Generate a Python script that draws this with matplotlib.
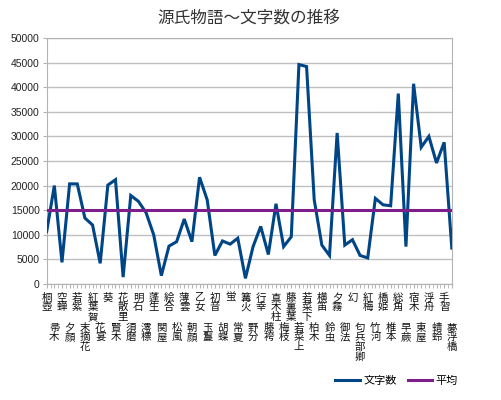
import matplotlib
matplotlib.use("Agg")
import matplotlib.pyplot as plt
from matplotlib.lines import Line2D
import numpy as np

plt.rcParams['font.family'] = ['Noto Sans CJK JP', 'DejaVu Sans']

chapters = ["桐壺", "帚木", "空蝉", "夕顔", "若紫", "末摘花", "紅葉賀", "花宴", "葵", "賢木",
            "花散里", "須磨", "明石", "澪標", "蓬生", "関屋", "絵合", "松風", "薄雲", "朝顔",
            "乙女", "玉鬘", "初音", "胡蝶", "蛍", "常夏", "篝火", "野分", "行幸", "藤袴",
            "真木柱", "梅枝", "藤裏葉", "若菜上", "若菜下", "柏木", "横笛", "鈴虫", "夕霧", "御法",
            "幻", "匂兵部卿", "紅梅", "竹河", "橋姫", "椎本", "総角", "早蕨", "宿木", "東屋",
            "浮舟", "蜻蛉", "手習", "夢浮橋"]

char_counts = [10650, 20000, 4400, 20350, 20350, 13400, 12000, 4200, 20100, 21200,
               1400, 18000, 16800, 14500, 10000, 1700, 7700, 8600, 13200, 8600,
               21700, 17100, 5800, 8750, 8100, 9300, 1150, 7600, 11700, 6000,
               16300, 7600, 9600, 44600, 44200, 17100, 7900, 5800, 30700, 7900,
               9000, 5800, 5300, 17400, 16100, 15900, 38700, 7600, 40700, 27800,
               30000, 24600, 28800, 7300]

average = [14950] * len(chapters)

yticks = [0, 5000, 10000, 15000, 20000, 25000, 30000, 35000, 40000, 45000, 50000]

fig = plt.figure(figsize=(5.02, 4.0), dpi=100)
ax = fig.add_axes([0.093, 0.29, 0.807, 0.615])

x = np.arange(len(chapters))
ax.plot(x, char_counts, color='#004586', lw=2.2, solid_joinstyle='miter', zorder=3)
ax.plot(x, average, color='#7e1e8a', lw=2.2, zorder=4)

ax.set_xlim(0, len(chapters) - 1)
ax.set_ylim(0, 50000)
ax.set_yticks(yticks)
ax.set_yticklabels([str(v) for v in yticks], fontfamily='Liberation Sans', fontsize=7.5, color='#222222')
ax.yaxis.grid(True, color='#c0c0c0', lw=1.0)
ax.set_axisbelow(True)
for s in ax.spines.values():
    s.set_color('#b3b3b3')
    s.set_linewidth(0.8)
ax.tick_params(axis='y', length=3, color='#b3b3b3', pad=2)

ax.set_xticks(x)
ax.set_xticks(x[:-1] + 0.5, minor=True)
ax.set_xticklabels([])
ax.tick_params(axis='x', which='both', length=3, color='#b3b3b3')

trans = ax.get_xaxis_transform()
for i, name in enumerate(chapters):
    yoff = -0.035 if i % 2 == 0 else -0.157
    ax.text(i, yoff, "\n".join(name), transform=trans, ha='center', va='top',
            fontsize=7.5, linespacing=0.95, color='#111111')

fig.text(0.495, 0.955, "源氏物語～文字数の推移", ha='center', va='center', fontsize=12, color='#333333')

handles = [Line2D([], [], color='#004586', lw=2.2), Line2D([], [], color='#7e1e8a', lw=2.2)]
fig.legend(handles, ["文字数", "平均"], loc='center', bbox_to_anchor=(0.79, 0.047), ncol=2,
           frameon=False, fontsize=8, handlelength=2.2, handletextpad=0.3, columnspacing=1.0)

fig.savefig("out.png", dpi=100)
